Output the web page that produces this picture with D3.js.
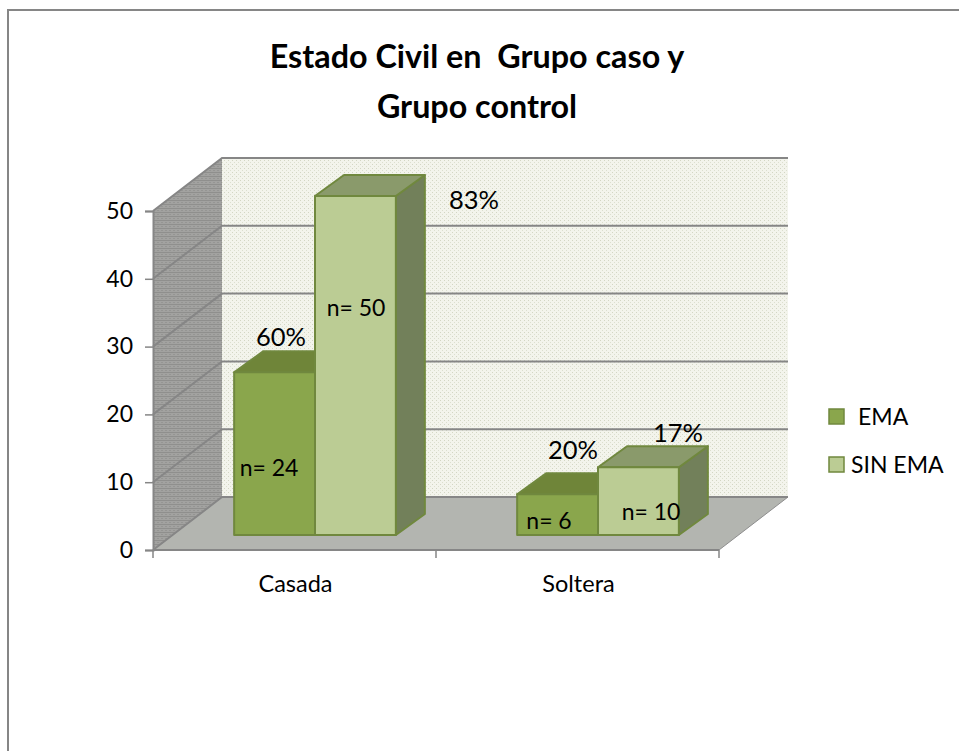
<!DOCTYPE html>
<html>
<head>
<meta charset="utf-8">
<script src="https://cdn.jsdelivr.net/npm/d3@7"></script>
<style>
  html, body { margin: 0; padding: 0; background: #fff; overflow: hidden; }
  text { font-family: Lato, "Open Sans", sans-serif; fill: #000; white-space: pre; }
</style>
</head>
<body>
<script>
// Chart data
const categories = ["Casada", "Soltera"];
const seriesNames = ["EMA", "SIN EMA"];
const emaValues = [24, 6];
const sinEmaValues = [50, 10];
const nLabels = [["n= 24", "n= 6"], ["n= 50", "n= 10"]];
const pctLabels = [["60%", "20%"], ["83%", "17%"]];
const yTicks = [0, 10, 20, 30, 40, 50];
const titleLines = ["Estado Civil en  Grupo caso y", "Grupo control"];

const width = 959;
const height = 751;

// Front plane of the 3D box
const plotLeft = 153;
const plotRight = 719;
const plotBottom = 550;
const plotTop = 211;
// Depth of the box and of a bar
const depthX = 69;
const depthY = -53;
const barDepthX = 29;
const barDepthY = -21;
// Bars stand a bit behind the front edge of the floor
const barShiftX = 20.5;
const barShiftY = -15;

const svg = d3.select("body").append("svg")
    .attr("width", width)
    .attr("height", height)
    .attr("viewBox", [0, 0, width, height])
    .style("display", "block");

// Page frame
svg.append("path")
    .attr("d", `M8,751V10H959`)
    .attr("fill", "none")
    .attr("stroke", "#868686")
    .attr("stroke-width", 2);

const defs = svg.append("defs");

// Dotted fill of the back wall
const wallPattern = defs.append("pattern")
    .attr("id", "wallDots")
    .attr("patternUnits", "userSpaceOnUse")
    .attr("width", 4)
    .attr("height", 4);
wallPattern.append("rect").attr("width", 4).attr("height", 4).attr("fill", "#f3f4ec");
wallPattern.append("rect").attr("width", 1).attr("height", 1).attr("fill", "#d3d6c4");
wallPattern.append("rect").attr("x", 2).attr("y", 2).attr("width", 1).attr("height", 1).attr("fill", "#dcdfcf");

// Dotted fill of the side wall
const sidePattern = defs.append("pattern")
    .attr("id", "sideDots")
    .attr("patternUnits", "userSpaceOnUse")
    .attr("width", 4)
    .attr("height", 4);
sidePattern.append("rect").attr("width", 4).attr("height", 4).attr("fill", "#a2a2a0");
sidePattern.append("rect").attr("width", 4).attr("height", 1).attr("fill", "#8f8f8d");
sidePattern.append("rect").attr("x", 1).attr("y", 2).attr("width", 2).attr("height", 1).attr("fill", "#959593");

// Scales
const x0 = d3.scaleBand().domain(categories).range([plotLeft, plotRight]);
const x1 = d3.scaleBand().domain(seriesNames).range([0, x0.bandwidth()]).paddingInner(0).paddingOuter(0.75);
const y = d3.scaleLinear().domain([0, 50]).range([plotBottom, plotTop]);

const line = d3.line();

// Floor
svg.append("path")
    .attr("d", line([[plotLeft, plotBottom], [plotLeft + depthX, plotBottom + depthY],
        [plotRight + depthX, plotBottom + depthY], [plotRight, plotBottom]]) + "Z")
    .attr("fill", "#b3b5b0")
    .attr("stroke", "#8e8e8e");

// Back wall
svg.append("rect")
    .attr("x", plotLeft + depthX)
    .attr("y", y(50) + depthY)
    .attr("width", plotRight - plotLeft)
    .attr("height", y(0) - y(50))
    .attr("fill", "url(#wallDots)");

// Side wall
svg.append("path")
    .attr("d", line([[plotLeft, plotBottom], [plotLeft, plotTop], [plotLeft + depthX, plotTop + depthY],
        [plotLeft + depthX, plotBottom + depthY]]) + "Z")
    .attr("fill", "url(#sideDots)");

// Grid lines on both walls
svg.append("g")
    .selectAll("path")
    .data(yTicks)
    .join("path")
    .attr("d", d => line([[plotLeft, y(d)], [plotLeft + depthX, y(d) + depthY], [plotRight + depthX, y(d) + depthY]]))
    .attr("fill", "none")
    .attr("stroke", "#868686")
    .attr("stroke-width", 2);

// Y axis
svg.append("g")
    .attr("transform", `translate(${plotLeft},0)`)
    .call(d3.axisLeft(y).tickValues(yTicks).tickSize(8).tickPadding(12))
    .call(g => g.selectAll(".domain").attr("stroke", "#868686").attr("stroke-width", 2))
    .call(g => g.selectAll(".tick line").attr("stroke", "#868686").attr("stroke-width", 1.5))
    .call(g => g.selectAll("text").attr("font-size", 23).attr("font-family", "Lato"));

// X axis, ticks on the band edges and labels underneath
const xEdges = [plotLeft, plotLeft + x0.bandwidth(), plotRight];
svg.append("path")
    .attr("d", line([[plotLeft, plotBottom], [plotRight, plotBottom]]))
    .attr("stroke", "#868686")
    .attr("stroke-width", 2);
svg.append("g")
    .selectAll("line")
    .data(xEdges)
    .join("line")
    .attr("x1", d => d)
    .attr("x2", d => d)
    .attr("y1", plotBottom)
    .attr("y2", plotBottom + 8)
    .attr("stroke", "#868686")
    .attr("stroke-width", 1.5);
svg.append("g")
    .selectAll("text")
    .data(categories)
    .join("text")
    .attr("x", d => x0(d) + x0.bandwidth() / 2 + 1)
    .attr("y", 592)
    .attr("text-anchor", "middle")
    .attr("font-size", 23.5)
    .text(d => d);

// Bars
const series = [
    { name: "EMA", values: emaValues, front: "#8aa64c", top: "#6f8539", side: "#6f8539", stroke: "#70883e" },
    { name: "SIN EMA", values: sinEmaValues, front: "#bbcc94", top: "#8a9a6b", side: "#72805a", stroke: "#70883e" }
];

series.forEach(function(s) {
    s.values.forEach(function(v, i) {
        const left = x0(categories[i]) + x1(s.name) + barShiftX;
        const right = left + x1.bandwidth();
        const top = y(v) + barShiftY;
        const bottom = y(0) + barShiftY;
        const g = svg.append("g").attr("stroke", s.stroke).attr("stroke-width", 2).attr("stroke-linejoin", "round");

        // Side face
        g.append("path")
            .attr("d", line([[right, bottom], [right, top], [right + barDepthX, top + barDepthY],
                [right + barDepthX, bottom + barDepthY]]) + "Z")
            .attr("fill", s.side);
        // Top face
        g.append("path")
            .attr("d", line([[left, top], [left + barDepthX, top + barDepthY],
                [right + barDepthX, top + barDepthY], [right, top]]) + "Z")
            .attr("fill", s.top);
        // Front face
        g.append("rect")
            .attr("x", left)
            .attr("y", top)
            .attr("width", right - left)
            .attr("height", bottom - top)
            .attr("fill", s.front);
    });
});

// Text labels put by hand over the bars
const barLabelPos = [
    [[269, 476], [549, 529]],
    [[356, 316], [651, 520]]
];
const pctLabelPos = [
    [[281, 346], [573, 459]],
    [[474, 209], [678, 442]]
];
seriesNames.forEach(function(name, si) {
    categories.forEach(function(cat, ci) {
        svg.append("text")
            .attr("x", barLabelPos[si][ci][0])
            .attr("y", barLabelPos[si][ci][1])
            .attr("text-anchor", "middle")
            .attr("font-size", 23)
            .text(nLabels[si][ci]);
        svg.append("text")
            .attr("x", pctLabelPos[si][ci][0])
            .attr("y", pctLabelPos[si][ci][1])
            .attr("text-anchor", "middle")
            .attr("font-size", 25.5)
            .text(pctLabels[si][ci]);
    });
});

// Title
svg.append("g")
    .selectAll("text")
    .data(titleLines)
    .join("text")
    .attr("x", 477)
    .attr("y", (d, i) => 68 + i * 50)
    .attr("text-anchor", "middle")
    .attr("font-size", 32.3)
    .attr("font-weight", "bold")
    .text(d => d);

// Legend
const legendX = 829;
const legendY = [409, 457];
const legendTextX = [858, 851];
series.forEach(function(s, i) {
    svg.append("rect")
        .attr("x", legendX)
        .attr("y", legendY[i])
        .attr("width", 15)
        .attr("height", 15)
        .attr("fill", s.front)
        .attr("stroke", s.stroke)
        .attr("stroke-width", 1.5);
    svg.append("text")
        .attr("x", legendTextX[i])
        .attr("y", legendY[i] + 16)
        .attr("font-size", 23)
        .text(s.name);
});
</script>
</body>
</html>
